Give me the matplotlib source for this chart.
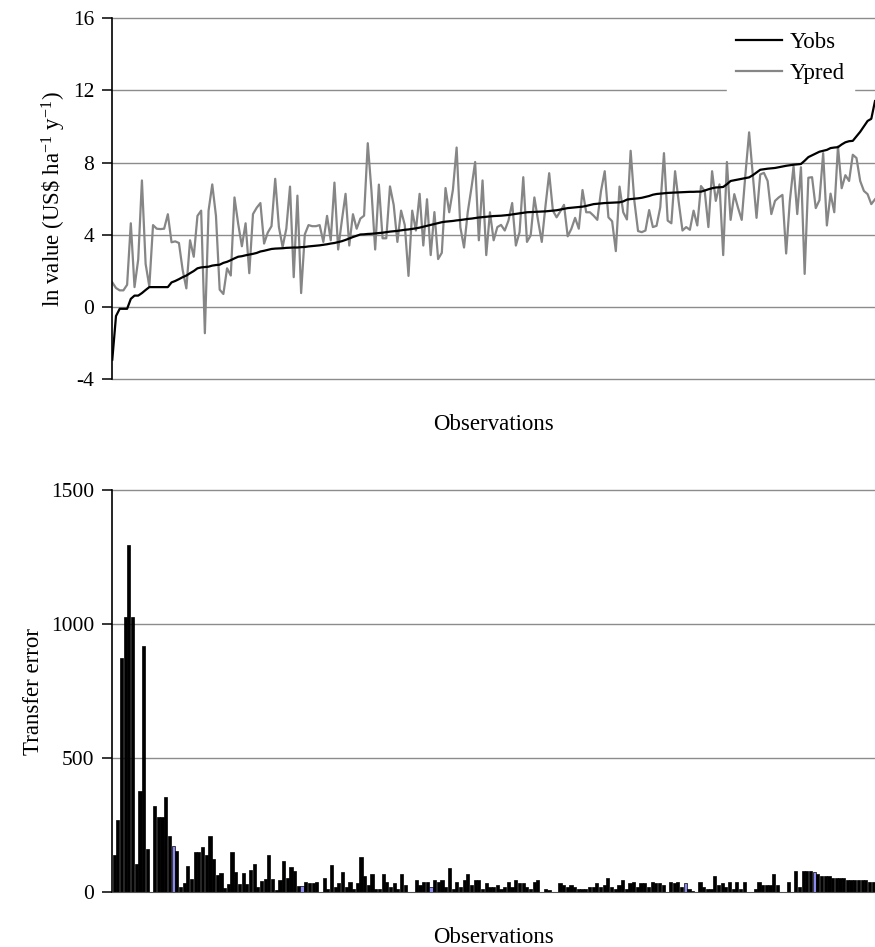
import matplotlib
matplotlib.use("Agg")
import matplotlib.pyplot as plt
import numpy as np

plt.rcParams['font.family'] = ['Liberation Serif', 'DejaVu Serif']
plt.rcParams['mathtext.fontset'] = 'custom'
plt.rcParams['mathtext.rm'] = 'Liberation Serif'
plt.rcParams['mathtext.it'] = 'Liberation Serif:italic'
plt.rcParams['axes.unicode_minus'] = False

# ---------------- data ----------------
y_obs = [
    -2.90, -0.49, -0.09, -0.09, -0.09, 0.46, 0.64, 0.64, 0.78, 0.95,
    1.11, 1.11, 1.11, 1.11, 1.11, 1.11, 1.37, 1.45, 1.55, 1.66,
    1.75, 1.88, 2.00, 2.15, 2.20, 2.22, 2.24, 2.30, 2.33, 2.35,
    2.45, 2.51, 2.60, 2.70, 2.79, 2.82, 2.87, 2.91, 2.95, 3.00,
    3.08, 3.12, 3.17, 3.22, 3.24, 3.25, 3.26, 3.28, 3.29, 3.30,
    3.30, 3.32, 3.33, 3.36, 3.38, 3.40, 3.42, 3.45, 3.48, 3.52,
    3.55, 3.60, 3.65, 3.72, 3.80, 3.88, 3.95, 4.02, 4.03, 4.05,
    4.06, 4.08, 4.10, 4.12, 4.15, 4.18, 4.20, 4.22, 4.25, 4.28,
    4.30, 4.33, 4.36, 4.40, 4.45, 4.50, 4.55, 4.60, 4.65, 4.70,
    4.73, 4.75, 4.77, 4.80, 4.82, 4.85, 4.88, 4.90, 4.93, 4.96,
    4.98, 5.00, 5.02, 5.04, 5.05, 5.06, 5.08, 5.10, 5.13, 5.16,
    5.19, 5.22, 5.25, 5.26, 5.27, 5.28, 5.29, 5.30, 5.32, 5.34,
    5.36, 5.40, 5.44, 5.48, 5.50, 5.52, 5.54, 5.56, 5.60, 5.65,
    5.70, 5.72, 5.74, 5.76, 5.77, 5.78, 5.79, 5.80, 5.85, 5.95,
    5.98, 6.00, 6.02, 6.05, 6.10, 6.15, 6.22, 6.26, 6.28, 6.30,
    6.32, 6.33, 6.34, 6.35, 6.36, 6.37, 6.38, 6.38, 6.39, 6.39,
    6.45, 6.52, 6.58, 6.62, 6.63, 6.65, 6.80, 6.98, 7.02, 7.06,
    7.10, 7.14, 7.18, 7.30, 7.45, 7.60, 7.63, 7.66, 7.68, 7.70,
    7.74, 7.78, 7.82, 7.85, 7.88, 7.90, 7.92, 8.10, 8.30, 8.40,
    8.50, 8.60, 8.65, 8.70, 8.80, 8.83, 8.85, 9.00, 9.12, 9.18,
    9.20, 9.45, 9.70, 10.00, 10.30, 10.42, 11.40,
]

y_pred = [
    1.37, 1.06, 0.93, 0.93, 1.24, 4.64, 1.11, 2.64, 7.01, 2.39,
    1.15, 4.54, 4.34, 4.32, 4.34, 5.14, 3.59, 3.64, 3.55, 2.06,
    1.04, 3.70, 2.79, 5.05, 5.34, -1.44, 5.34, 6.79, 5.05, 0.97,
    0.73, 2.15, 1.75, 6.07, 4.61, 3.37, 4.64, 1.88, 5.15, 5.50,
    5.76, 3.52, 4.13, 4.48, 7.10, 4.43, 3.33, 4.34, 6.67, 1.66,
    6.17, 0.78, 4.03, 4.54, 4.48, 4.48, 4.54, 3.61, 5.05, 3.70,
    6.89, 3.19, 4.79, 6.27, 3.41, 5.14, 4.34, 4.90, 5.06, 9.07,
    6.43, 3.19, 6.78, 3.81, 3.81, 6.68, 5.66, 3.61, 5.34, 4.54,
    1.73, 5.34, 4.24, 6.27, 3.41, 5.97, 2.88, 5.26, 2.66, 3.01,
    6.59, 5.25, 6.50, 8.83, 4.43, 3.30, 5.25, 6.60, 8.03, 3.70,
    7.01, 2.88, 5.25, 3.70, 4.43, 4.55, 4.24, 4.79, 5.76, 3.41,
    4.15, 7.19, 3.61, 3.97, 6.07, 4.79, 3.61, 5.60, 7.41, 5.34,
    4.97, 5.30, 5.66, 3.92, 4.34, 4.94, 4.34, 6.48, 5.25, 5.25,
    5.06, 4.83, 6.43, 7.52, 4.97, 4.75, 3.10, 6.67, 5.25, 4.85,
    8.65, 5.88, 4.21, 4.15, 4.24, 5.37, 4.43, 4.50, 5.52, 8.52,
    4.79, 4.64, 7.52, 5.79, 4.24, 4.43, 4.28, 5.34, 4.52, 6.70,
    6.43, 4.43, 7.52, 5.88, 6.79, 2.88, 8.03, 4.83, 6.25, 5.50,
    4.83, 7.34, 9.67, 7.34, 4.94, 7.34, 7.43, 6.98, 5.15, 5.88,
    6.07, 6.21, 2.97, 5.88, 7.80, 5.15, 7.74, 1.84, 7.16, 7.19,
    5.48, 5.92, 8.52, 4.52, 6.28, 5.25, 8.89, 6.58, 7.30, 6.98,
    8.43, 8.25, 6.98, 6.43, 6.25, 5.70, 5.97,
]

transfer_error = [
    141, 268, 875, 1029, 1295, 1029, 105, 379, 918, 161,
    0, 322, 280, 280, 357, 211, 174, 154, 21, 36,
    99, 50, 149, 149, 169, 141, 211, 126, 64, 71,
    15, 30, 149, 77, 30, 71, 30, 83, 105, 21,
    42, 50, 141, 50, 7, 46, 116, 53, 96, 81,
    24, 25, 40, 34, 34, 40, 0, 53, 12, 103,
    19, 34, 75, 19, 40, 12, 34, 131, 61, 27,
    68, 12, 12, 68, 40, 19, 34, 12, 68, 27,
    0, 0, 46, 27, 40, 40, 19, 46, 40, 46,
    19, 90, 12, 40, 19, 46, 68, 27, 46, 46,
    12, 34, 19, 19, 27, 12, 19, 40, 19, 46,
    34, 34, 19, 12, 40, 46, 0, 12, 8, 0,
    0, 34, 27, 19, 27, 19, 12, 12, 12, 19,
    19, 34, 19, 27, 53, 19, 12, 27, 46, 12,
    34, 40, 19, 34, 34, 19, 40, 34, 34, 27,
    0, 40, 34, 40, 19, 34, 12, 4, 0, 40,
    19, 12, 12, 61, 27, 34, 19, 40, 12, 40,
    12, 40, 0, 0, 12, 40, 27, 27, 27, 68,
    27, 0, 0, 40, 0, 81, 19, 81, 81, 81,
    75, 68, 61, 61, 61, 53, 53, 53, 53, 46,
    46, 46, 46, 46, 46, 40, 40,
]

top_ticks = [-4, 0, 4, 8, 12, 16]
bottom_ticks = [0, 500, 1000, 1500]
series_labels = ["Yobs", "Ypred"]
highlight_bars = [16, 51, 86, 155, 190]   # bars rendered with visible blue fill

# ---------------- figure ----------------
W, H = 875, 947
fig = plt.figure(figsize=(W / 100, H / 100), dpi=100)
FS_TICK = 15.5
FS_LAB = 16.5
grid_c = '#8c8c8c'

def px_axes(x0, y0, x1, y1):
    return fig.add_axes([x0 / W, 1 - y1 / H, (x1 - x0) / W, (y1 - y0) / H])

# top panel
ax1 = px_axes(112.3, 17.9, 875, 379.5)
n = len(y_obs)
x = np.arange(n)
for t in top_ticks:
    ax1.axhline(t, color=grid_c, lw=1.0, zorder=0, clip_on=False)
ax1.plot(x, y_pred, color='#868686', lw=1.6, label=series_labels[1], zorder=2)
ax1.plot(x, y_obs, color='black', lw=1.6, label=series_labels[0], zorder=3)
ax1.set_xlim(0, n - 1)
ax1.set_ylim(-4, 16)
ax1.set_yticks(top_ticks)
ax1.set_xticks([])
for s in ['top', 'right', 'bottom']:
    ax1.spines[s].set_visible(False)
ax1.spines['left'].set_linewidth(1.2)
ax1.spines['left'].set_zorder(5)
ax1.tick_params(axis='y', direction='out', length=7, width=1.1, pad=6, labelsize=FS_TICK)
ax1.set_ylabel(r'ln value (US\$ ha$^{-1}$ y$^{-1}$)', fontsize=FS_LAB)
ax1.yaxis.set_label_coords(-0.058, 0.5)
ax1.set_xlabel('Observations', fontsize=FS_LAB)
ax1.xaxis.set_label_coords(0.5, -0.096)

handles, labels = ax1.get_legend_handles_labels()
order = [labels.index(series_labels[0]), labels.index(series_labels[1])]
leg = ax1.legend([handles[i] for i in order], [labels[i] for i in order],
                 loc='upper right', bbox_to_anchor=(0.972, 0.985), borderaxespad=0,
                 frameon=True, fancybox=False, edgecolor='white', facecolor='white',
                 framealpha=1, fontsize=FS_LAB, handlelength=2.0, handletextpad=0.35,
                 labelspacing=0.45, borderpad=0.38)
leg.set_zorder(6)

# bottom panel
ax2 = px_axes(112.3, 490.3, 875, 892.3)
nb = len(transfer_error)
xb = np.arange(nb)
for t in bottom_ticks[1:]:
    ax2.axhline(t, color=grid_c, lw=1.0, zorder=0, clip_on=False)
colors = ['#8a8af0' if i in highlight_bars else 'black' for i in range(nb)]
ax2.bar(xb, transfer_error, width=0.86, color=colors, edgecolor='black',
        linewidth=0.5, zorder=2)
ax2.set_xlim(-0.5, nb - 0.5)
ax2.set_ylim(0, 1500)
ax2.set_yticks(bottom_ticks)
ax2.set_xticks([])
for s in ['top', 'right']:
    ax2.spines[s].set_visible(False)
ax2.spines['bottom'].set_color('#555555')
ax2.spines['left'].set_linewidth(1.2)
ax2.tick_params(axis='y', direction='out', length=7, width=1.1, pad=6, labelsize=FS_TICK)
ax2.set_ylabel('Transfer error', fontsize=FS_LAB)
ax2.yaxis.set_label_coords(-0.090, 0.5)
ax2.set_xlabel('Observations', fontsize=FS_LAB)
ax2.xaxis.set_label_coords(0.5, -0.0855)

fig.savefig('out.png', dpi=100)
